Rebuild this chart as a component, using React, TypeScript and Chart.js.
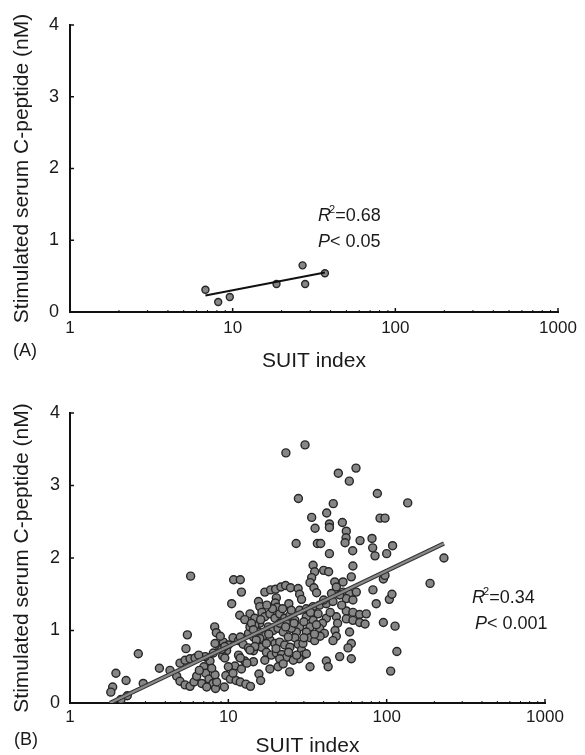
import React, { useEffect, useRef } from "react";
import { Chart, registerables } from "chart.js";

Chart.register(...registerables);

// ---------- axis ticks ----------
const xTickValues = [1, 10, 100, 1000];
const yTickValues = [0, 1, 2, 3, 4];

// ---------- panel A ----------
const suitA = [6.8, 8.15, 9.6, 18.6, 26.9, 27.9, 36.9];
const cpepA = [0.31, 0.14, 0.21, 0.39, 0.65, 0.39, 0.54];
const fitAx = [6.8, 36.9];
const fitAy = [0.23, 0.55];

// ---------- panel B ----------
const clusterSuit = [
  10.8, 11.9, 12.1, 10.5, 8.2, 8.4, 34.3, 35.1, 33.6, 32.8,
  34.7, 36.1, 40.0, 43.0, 47.0, 53.0, 61.2, 59.8, 81.9, 85.9,
  48.1, 53.0, 58.3, 55.6, 50.5, 61.2, 64.3, 44.8, 17.0, 18.5,
  19.9, 21.5, 23.0, 24.7, 27.6, 28.2, 29.0, 20.1, 19.8, 20.3,
  24.1, 15.5, 15.8, 16.3, 28.2, 31.1, 34.3, 37.7, 41.6, 45.8,
  55.6, 61.2, 67.5, 74.3, 55.6, 61.2, 67.5, 73.0, 48.1, 49.0,
  47.2, 48.1, 45.8, 41.6, 39.3, 37.7, 40.4, 34.3, 32.8, 31.1,
  32.8, 35.1, 28.2, 26.9, 26.3, 27.6, 29.0, 29.6, 28.0, 58.3,
  59.8, 57.0, 50.5, 59.8, 41.6, 42.7, 32.8, 24.4, 13.7, 14.7,
  15.8, 17.0, 18.3, 19.7, 21.1, 22.7, 24.5, 26.3, 17.9, 19.2,
  20.6, 22.2, 23.9, 17.0, 18.3, 19.7, 21.1, 22.7, 24.5, 16.2,
  17.4, 18.7, 20.1, 21.7, 23.3, 25.7, 21.1, 15.5, 14.4, 13.4,
  11.8, 12.7, 14.7, 10.7, 11.6, 12.4, 13.4, 14.4, 9.3, 10.0,
  9.75, 9.2, 11.8, 12.7, 11.0, 12.1, 7.3, 7.66, 7.0, 7.2,
  7.55, 8.0, 8.3, 9.65, 10.3, 11.2, 11.9, 12.9, 13.8, 15.6,
  16.0, 14.4, 17.0, 18.3, 20.6, 22.2, 31.1, 29.6, 15.8, 17.4,
  13.7, 25.0, 23.3, 21.1, 31.1, 36.9, 8.85, 8.24,
];
const clusterCpep = [
  1.70, 1.70, 1.53, 1.37, 1.05, 0.97, 1.90, 1.81, 1.73, 1.66,
  1.59, 1.52, 1.83, 1.81, 1.67, 1.67, 1.89, 1.74, 1.56, 1.37,
  1.60, 1.53, 1.51, 1.44, 1.49, 1.42, 1.53, 1.51, 1.53, 1.56,
  1.57, 1.60, 1.62, 1.59, 1.58, 1.50, 1.43, 1.45, 1.38, 1.32,
  1.37, 1.40, 1.33, 1.25, 1.28, 1.30, 1.33, 1.35, 1.37, 1.40,
  1.27, 1.25, 1.22, 1.23, 1.16, 1.14, 1.11, 1.09, 1.19, 1.10,
  1.00, 0.92, 0.86, 1.17, 1.10, 1.03, 0.96, 1.14, 1.05, 0.98,
  0.90, 0.86, 1.05, 0.98, 0.90, 0.81, 0.73, 0.66, 0.61, 0.98,
  0.82, 0.76, 0.64, 0.61, 0.58, 0.50, 0.50, 0.43, 1.23, 1.17,
  1.10, 1.19, 1.23, 1.17, 1.23, 1.17, 1.21, 1.14, 1.05, 1.00,
  1.03, 0.98, 0.91, 0.93, 0.87, 0.82, 0.84, 0.80, 0.77, 0.77,
  0.70, 0.66, 0.69, 0.67, 0.63, 0.59, 0.61, 0.98, 0.91, 0.96,
  1.21, 1.15, 1.07, 0.90, 0.86, 0.81, 0.76, 0.72, 0.84, 0.80,
  0.72, 0.65, 0.63, 0.58, 0.51, 0.47, 0.63, 0.58, 0.50, 0.41,
  0.33, 0.27, 0.20, 0.38, 0.33, 0.31, 0.29, 0.26, 0.23, 0.40,
  0.31, 0.57, 0.59, 0.47, 0.50, 0.54, 0.68, 0.82, 0.89, 0.82,
  1.05, 1.03, 1.10, 1.10, 1.19, 1.23, 0.75, 0.82,
];
const coreSuit = [
  19.0, 22.0, 25.0, 18.0, 23.0, 26.0, 30.0, 33.0, 36.0, 38.0,
  20.0, 24.0, 27.0, 35.0, 44.0, 52.0, 40.0, 30.0, 16.0, 17.5,
];
const coreCpep = [
  1.30, 1.30, 1.28, 0.95, 1.05, 1.10, 1.12, 1.25, 1.08, 0.92,
  0.75, 0.70, 0.66, 0.95, 1.25, 1.35, 1.42, 0.90, 1.15, 1.35,
];
const edgeSuit = [
  7.13, 8.04, 9.08, 6.79, 7.3, 8.44, 8.24, 7.85, 8.9, 9.5,
  9.5, 10.0, 10.7, 9.44, 11.6, 11.9, 13.1, 14.0, 14.4, 11.9,
  15.0, 14.7, 13.7,
];
const edgeCpep = [
  0.64, 0.69, 0.74, 0.27, 0.22, 0.29, 0.39, 0.48, 0.92, 0.78,
  0.62, 0.50, 0.41, 0.22, 0.66, 0.62, 0.55, 1.10, 1.01, 0.91,
  0.87, 0.78, 0.73,
];
const lowSuit = [
  4.28, 4.95, 5.33, 5.73, 6.16, 6.5, 4.72, 4.95, 5.33, 5.73,
  6.07, 6.31, 6.56, 5.78, 5.51, 5.40, 2.70, 3.67, 1.95, 2.26,
  1.86, 1.81, 2.90, 2.1, 2.3,
];
const lowCpep = [
  0.45, 0.55, 0.59, 0.61, 0.62, 0.66, 0.37, 0.30, 0.25, 0.23,
  0.29, 0.37, 0.45, 1.75, 0.94, 0.75, 0.68, 0.48, 0.41, 0.31,
  0.22, 0.15, 0.27, 0.05, 0.1,
];
const rightSuit = [95.3, 113, 104, 108, 106, 116, 95.3, 97.6, 100, 109, 188, 230];
const rightCpep = [1.11, 1.06, 1.43, 1.50, 0.44, 0.71, 1.71, 1.76, 2.06, 2.17, 1.65, 2.00];
const highSuit = [
  23.1, 30.5, 49.5, 64.0, 58.1, 27.7, 87.3, 135.8, 46.0, 41.8,
  33.6, 90.8, 97.6, 43.5, 43.5, 35.3, 52.5, 55.6, 55.4, 54.6,
  67.9, 80.8, 81.6, 84.4, 26.8, 36.5, 38.3, 43.5, 61.0,
];
const highCpep = [
  3.45, 3.56, 3.17, 3.24, 3.06, 2.82, 2.89, 2.76, 2.75, 2.62,
  2.56, 2.55, 2.55, 2.47, 2.42, 2.41, 2.49, 2.37, 2.28, 2.21,
  2.24, 2.27, 2.14, 2.03, 2.20, 2.20, 2.20, 2.06, 2.10,
];
const fitBx = [1.79, 230];
const fitBy = [0, 2.2];

const suitB = [...clusterSuit, ...coreSuit, ...edgeSuit, ...lowSuit, ...rightSuit, ...highSuit];
const cpepB = [...clusterCpep, ...coreCpep, ...edgeCpep, ...lowCpep, ...rightCpep, ...highCpep];

const FONT = "'Liberation Sans', Arial, Helvetica, sans-serif";
const INK = "#1a1a1a";

const tickMarks = {
  id: "tickMarks",
  afterDraw(chart: any) {
    const { ctx, chartArea } = chart;
    const xs = chart.scales.x;
    const ys = chart.scales.y;
    ctx.save();
    ctx.strokeStyle = "#111";
    ctx.lineWidth = 1.5;
    xTickValues.forEach((v) => {
      if (v === 1) return;
      const p = xs.getPixelForValue(v);
      ctx.beginPath();
      ctx.moveTo(p, chartArea.bottom);
      ctx.lineTo(p, chartArea.bottom - 4);
      ctx.stroke();
    });
    ctx.lineWidth = 1;
    [1, 10, 100].forEach((d) => {
      for (let m = 2; m <= 9; m++) {
        const p = xs.getPixelForValue(d * m);
        ctx.beginPath();
        ctx.moveTo(p, chartArea.bottom);
        ctx.lineTo(p, chartArea.bottom - 2);
        ctx.stroke();
      }
    });
    ctx.lineWidth = 1.5;
    yTickValues.forEach((v) => {
      if (v === 0) return;
      const p = ys.getPixelForValue(v);
      ctx.beginPath();
      ctx.moveTo(chartArea.left, p);
      ctx.lineTo(chartArea.left + 4, p);
      ctx.stroke();
    });
    ctx.restore();
  },
};

type PanelProps = {
  suit: number[];
  cpep: number[];
  fitX: number[];
  fitY: number[];
  top: number;
  height: number;
  padTop: number;
  padRight: number;
  xScaleHeight: number;
  xTickPad: number;
  xTitlePad: number;
  yTickPad: number;
  radius: number;
  variant: "A" | "B";
};

function Panel(p: PanelProps) {
  const ref = useRef<HTMLCanvasElement | null>(null);
  useEffect(() => {
    if (!ref.current) return;
    const pts = p.suit.map((x, i) => ({ x, y: p.cpep[i] }));
    const fit = p.fitX.map((x, i) => ({ x, y: p.fitY[i] }));
    const lineSets: any[] =
      p.variant === "A"
        ? [
            {
              data: fit,
              showLine: true,
              borderColor: "#111",
              borderWidth: 2,
              pointRadius: 0,
              order: 0,
            },
          ]
        : [
            {
              data: fit,
              showLine: true,
              borderColor: "#8a8a8a",
              borderWidth: 2.2,
              pointRadius: 0,
              order: 0,
            },
            {
              data: fit,
              showLine: true,
              borderColor: "#333",
              borderWidth: 4.2,
              pointRadius: 0,
              order: 1,
            },
          ];
    const chart = new Chart(ref.current, {
      type: "scatter",
      data: {
        datasets: [
          ...lineSets,
          {
            data: pts,
            pointRadius: p.radius,
            pointBackgroundColor: "#868686",
            pointBorderColor: "#262626",
            pointBorderWidth: 1.4,
            showLine: false,
            order: 5,
          },
        ],
      },
      options: {
        animation: false,
        responsive: false,
        events: [],
        layout: { padding: { top: p.padTop, right: p.padRight, left: 0, bottom: 0 } },
        plugins: { legend: { display: false }, tooltip: { enabled: false } },
        scales: {
          x: {
            type: "logarithmic",
            min: 1,
            max: 1000,
            afterBuildTicks: (s: any) => {
              s.ticks = xTickValues.map((v) => ({ value: v }));
            },
            afterFit: (s: any) => {
              s.height = p.xScaleHeight;
            },
            grid: { display: false, drawTicks: false },
            border: { display: true, color: "#111", width: 2 },
            ticks: {
              callback: (v: any) => String(v),
              font: { family: FONT, size: 17 },
              color: INK,
              padding: p.xTickPad,
              maxRotation: 0,
              autoSkip: false,
            },
            title: {
              display: true,
              text: "SUIT index",
              font: { family: FONT, size: 21 },
              color: INK,
              padding: { top: 0, bottom: p.xTitlePad },
            },
          },
          y: {
            type: "linear",
            min: 0,
            max: 4,
            afterBuildTicks: (s: any) => {
              s.ticks = yTickValues.map((v) => ({ value: v }));
            },
            afterFit: (s: any) => {
              s.width = 70;
            },
            grid: { display: false, drawTicks: false },
            border: { display: true, color: "#111", width: 2 },
            ticks: {
              font: { family: FONT, size: 18 },
              color: INK,
              padding: p.yTickPad,
            },
            title: {
              display: true,
              text: "Stimulated serum C-peptide (nM)",
              font: { family: FONT, size: 21 },
              color: INK,
              padding: { top: 10, bottom: 0 },
            },
          },
        },
      } as any,
      plugins: [tickMarks as any],
    });
    return () => chart.destroy();
  }, []);
  return (
    <canvas
      ref={ref}
      width={585}
      height={p.height}
      style={{ position: "absolute", left: 0, top: p.top, width: 585, height: p.height }}
    />
  );
}

const txt: React.CSSProperties = {
  position: "absolute",
  fontFamily: FONT,
  fontSize: 18,
  lineHeight: "20px",
  color: INK,
  whiteSpace: "nowrap",
};
const sup: React.CSSProperties = {
  fontSize: 11,
  position: "relative",
  top: -8,
  marginLeft: -2,
};

export default function App() {
  return (
    <div
      style={{
        position: "fixed",
        left: 0,
        top: 0,
        width: 585,
        height: 755,
        overflow: "hidden",
        background: "#fff",
      }}
    >
      <Panel
        suit={suitA}
        cpep={cpepA}
        fitX={fitAx}
        fitY={fitAy}
        top={0}
        height={380}
        padTop={25}
        padRight={27}
        xScaleHeight={68}
        xTickPad={6}
        xTitlePad={6}
        yTickPad={11}
        radius={3.5}
        variant="A"
      />
      <Panel
        suit={suitB}
        cpep={cpepB}
        fitX={fitBx}
        fitY={fitBy}
        top={378}
        height={385}
        padTop={35}
        padRight={40}
        xScaleHeight={60}
        xTickPad={4}
        xTitlePad={4}
        yTickPad={10}
        radius={4}
        variant="B"
      />
      <div style={{ ...txt, left: 13, top: 340 }}>(A)</div>
      <div style={{ ...txt, left: 14, top: 729 }}>(B)</div>
      <div style={{ ...txt, left: 318, top: 205 }}>
        <i>R</i>
        <span style={sup}>2</span>=0.68
      </div>
      <div style={{ ...txt, left: 318, top: 231 }}>
        <i>P</i>
        {"< 0.05"}
      </div>
      <div style={{ ...txt, left: 472, top: 587 }}>
        <i>R</i>
        <span style={sup}>2</span>=0.34
      </div>
      <div style={{ ...txt, left: 475, top: 613 }}>
        <i>P</i>
        {"< 0.001"}
      </div>
    </div>
  );
}
